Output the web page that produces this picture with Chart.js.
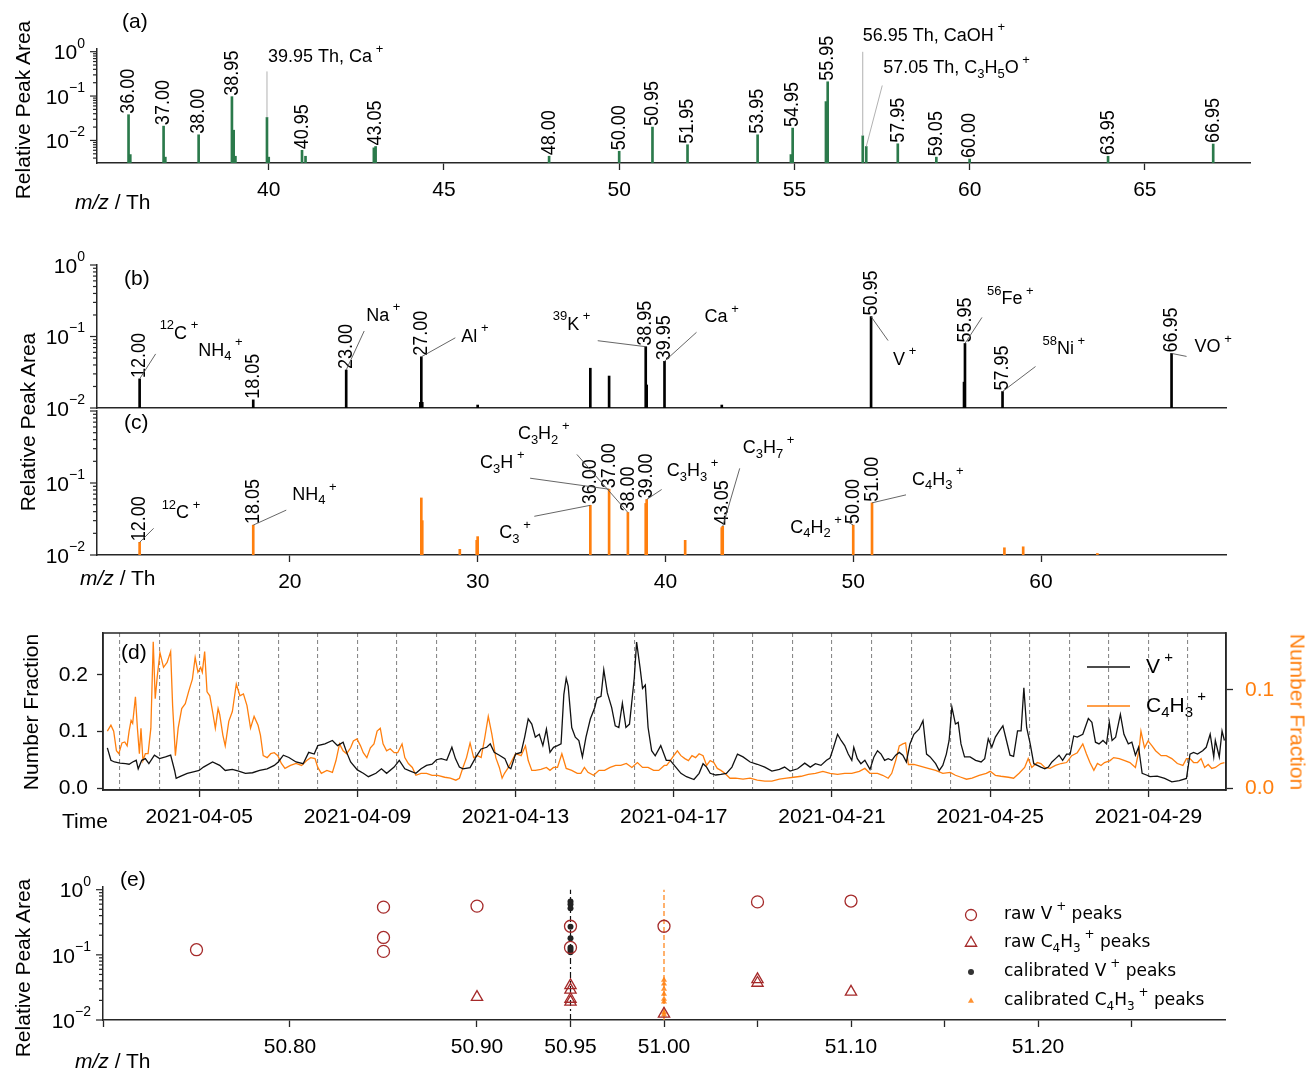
<!DOCTYPE html>
<html>
<head>
<meta charset="utf-8">
<title>Peak spectra and time series</title>
<script src="https://cdn.jsdelivr.net/npm/chart.js@4.4.1/dist/chart.umd.min.js"></script>
<style>
  html, body { margin: 0; padding: 0; background: #fff; }
  body { position: relative; width: 1309px; height: 1070px; overflow: hidden;
         font-family: "Liberation Sans", Arial, Helvetica, sans-serif; color: #000; }
  canvas { position: absolute; left: 0; }
  .t { position: absolute; white-space: nowrap; line-height: 1; transform: translateY(-50%); font-size: 21px; }
  .yt { position: absolute; white-space: nowrap; line-height: 1; font-size: 21px;
        transform: translate(-50%, -50%) rotate(-90deg); }
</style>
</head>
<body>
<canvas id="chA" width="1309" height="215" style="top:0px"></canvas>
<canvas id="chB" width="1309" height="180" style="top:240px"></canvas>
<canvas id="chC" width="1309" height="202" style="top:398px"></canvas>
<canvas id="chD" width="1309" height="220" style="top:620px"></canvas>
<canvas id="chE" width="1309" height="210" style="top:860px"></canvas>

<div class="t" style="left:122px;top:20px">(a)</div>
<div class="t" style="left:124px;top:277px">(b)</div>
<div class="t" style="left:124px;top:421px">(c)</div>
<div class="t" style="left:121px;top:651px">(d)</div>
<div class="t" style="left:120px;top:878px">(e)</div>

<div class="yt" style="left:22px;top:110px">Relative Peak Area</div>
<div class="yt" style="left:27px;top:422px">Relative Peak Area</div>
<div class="yt" style="left:30px;top:712px">Number Fraction</div>
<div class="yt" style="left:1298px;top:712px;color:#ff7f0e;transform:translate(-50%,-50%) rotate(90deg)">Number Fraction</div>
<div class="yt" style="left:22px;top:968px">Relative Peak Area</div>

<div class="t" style="left:75px;top:201px"><i>m/z</i> / Th</div>
<div class="t" style="left:80px;top:577px"><i>m/z</i> / Th</div>
<div class="t" style="left:62px;top:820px">Time</div>
<div class="t" style="left:75px;top:1060px"><i>m/z</i> / Th</div>

<script>
// ---------- data ----------
// (a) spectrum, relative peak area per m/z
const aMz   = [36.00, 36.05, 37.00, 37.05, 38.00, 38.95, 39.00, 39.05, 39.95, 40.00, 40.95, 41.05, 43.00, 43.05, 48.00,
               50.00, 50.95, 51.95, 53.95, 54.90, 54.95, 55.90, 55.95, 56.95, 57.05, 57.95, 59.05, 60.00, 63.95, 66.95];
const aArea = [0.038, 0.0048, 0.021, 0.0042, 0.0134, 0.097, 0.017, 0.0044, 0.033, 0.0042, 0.006, 0.0044, 0.0068, 0.0073, 0.0044,
               0.0057, 0.020, 0.008, 0.0134, 0.0048, 0.019, 0.075, 0.21, 0.0127, 0.0073, 0.0084, 0.0042, 0.0038, 0.0044, 0.0083];
const aPeakLabels = [36.00, 37.00, 38.00, 38.95, 40.95, 43.05, 48.00, 50.00, 50.95, 51.95, 53.95, 54.95, 55.95, 57.95, 59.05, 60.00, 63.95, 66.95];
const aIons  = ['39.95 Th, Ca^{ +}', '56.95 Th, CaOH^{ +}', '57.05 Th, C_{3}H_{5}O^{ +}'];
const aIonMz = [39.95, 56.95, 57.05];
const aTicks = [40, 45, 50, 55, 60, 65];

// (b) V-rich particle spectrum
const bMz   = [12.00, 18.05, 23.00, 26.95, 27.00, 27.05, 30.00, 36.00, 37.00, 38.95, 39.00, 39.95, 43.00, 50.95, 55.90, 55.95, 57.95, 66.95];
const bArea = [0.0255, 0.013, 0.034, 0.012, 0.052, 0.012, 0.011, 0.036, 0.028, 0.072, 0.021, 0.045, 0.011, 0.19, 0.023, 0.08, 0.017, 0.058];
const bPeakLabels = [12.00, 18.05, 23.00, 27.00, 38.95, 39.95, 50.95, 55.95, 57.95, 66.95];
const bIons  = ['^{12}C^{ +}', 'NH_{4}^{ +}', 'Na^{ +}', 'Al^{ +}', '^{39}K^{ +}', 'Ca^{ +}', 'V^{ +}', '^{56}Fe^{ +}', '^{58}Ni^{ +}', 'VO^{ +}'];
const bIonMz = [12.00, 18.05, 23.00, 27.00, 38.95, 39.95, 50.95, 55.95, 57.95, 66.95];

// (c) hydrocarbon particle spectrum
const cMz   = [12.00, 18.05, 27.00, 27.05, 29.05, 29.95, 30.00, 36.00, 37.00, 38.00, 38.95, 39.00, 41.05, 43.00, 43.05, 50.00, 51.00, 58.05, 59.05, 63.00];
const cArea = [0.015, 0.026, 0.062, 0.030, 0.012, 0.016, 0.018, 0.049, 0.082, 0.039, 0.052, 0.059, 0.016, 0.024, 0.025, 0.026, 0.053, 0.0126, 0.013, 0.0105];
const cPeakLabels = [12.00, 18.05, 36.00, 37.00, 38.00, 39.00, 43.05, 50.00, 51.00];
const cIons  = ['^{12}C^{ +}', 'NH_{4}^{ +}', 'C_{3}^{ +}', 'C_{3}H^{ +}', 'C_{3}H_{2}^{ +}', 'C_{3}H_{3}^{ +}', 'C_{3}H_{7}^{ +}', 'C_{4}H_{2}^{ +}', 'C_{4}H_{3}^{ +}'];
const cIonMz = [12.00, 18.05, 36.00, 37.00, 38.00, 39.00, 43.05, 50.00, 51.00];
const bcTicks = [20, 30, 40, 50, 60];

// (d) number fractions, time given as day of April 2021 (UTC)
const vDay = [2.68,2.77,2.86,3.00,3.14,3.23,3.32,3.41,3.46,3.55, 3.64,3.73,3.87,4.00,4.15,4.28,4.38,4.42,4.51,4.70,
  4.88,5.00,5.11,5.34,5.52,5.66,5.84,6.00,6.17,6.35, 6.53,6.72,6.90,7.00,7.13,7.27,7.45,7.63,7.77,7.91,
  8.00,8.18,8.37,8.50,8.64,8.73,8.83,9.00,9.15,9.28, 9.47,9.61,9.74,9.93,10.06,10.20,10.34,10.48,10.61,10.75,
  10.89,11.00,11.12,11.26,11.39,11.48,11.58,11.67,11.85,12.00, 12.13,12.27,12.36,12.46,12.59,12.73,12.82,12.88,13.00,13.14,
  13.23,13.32,13.41,13.50,13.60,13.69,13.78,13.87,13.96,14.06, 14.15,14.22,14.28,14.33,14.42,14.51,14.60,14.69,14.78,14.89,
  15.00,15.06,15.16,15.23,15.32,15.43,15.52,15.61,15.70,15.79, 15.88,16.00,16.06,16.15,16.21,16.28,16.35,16.44,16.53,16.67,
  16.81,16.91,17.05,17.18,17.32,17.51,17.64,17.74,17.83,17.92, 18.06,18.19,18.33,18.47,18.61,18.75,18.93,19.11,19.30,19.48,
  19.67,19.80,19.94,20.13,20.31,20.45,20.58,20.72,20.86,20.95, 21.04,21.14,21.23,21.32,21.41,21.50,21.55,21.64,21.73,21.83,
  21.96,22.06,22.15,22.24,22.33,22.42,22.51,22.61,22.70,22.79, 22.88,22.97,23.07,23.20,23.30,23.39,23.48,23.62,23.71,23.80,
  23.89,23.96,24.03,24.12,24.19,24.26,24.35,24.49,24.63,24.77, 24.86,24.95,25.04,25.13,25.23,25.32,25.41,25.50,25.59,25.69,
  25.78,25.85,25.92,26.01,26.10,26.19,26.28,26.38,26.47,26.56, 26.65,26.74,26.83,26.93,27.02,27.11,27.20,27.34,27.48,27.57,
  27.66,27.75,27.85,27.94,28.01,28.08,28.17,28.29,28.38,28.49, 28.58,28.67,28.75,28.84,28.95,29.04,29.22,29.41,29.59,29.78,
  29.96,30.05,30.14,30.24,30.37,30.46,30.56,30.65,30.69,30.79, 30.86,30.92];
const vFrac = [0.071,0.049,0.046,0.044,0.043,0.042,0.046,0.049,0.034,0.049, 0.052,0.043,0.058,0.052,0.055,0.058,0.031,0.017,0.020,0.026,
  0.029,0.031,0.037,0.046,0.040,0.031,0.033,0.030,0.026,0.027, 0.031,0.034,0.040,0.046,0.058,0.054,0.046,0.043,0.063,0.060,
  0.075,0.078,0.084,0.075,0.081,0.063,0.046,0.032,0.026,0.020, 0.026,0.034,0.026,0.037,0.049,0.034,0.030,0.026,0.034,0.040,
  0.042,0.050,0.052,0.049,0.072,0.052,0.037,0.034,0.036,0.055, 0.069,0.072,0.078,0.063,0.058,0.052,0.037,0.034,0.060,0.063,
  0.090,0.122,0.113,0.090,0.095,0.075,0.104,0.063,0.072,0.075, 0.078,0.165,0.194,0.180,0.107,0.090,0.084,0.055,0.090,0.122,
  0.142,0.159,0.162,0.209,0.168,0.142,0.110,0.107,0.150,0.107, 0.113,0.194,0.258,0.211,0.176,0.182,0.107,0.066,0.057,0.075,
  0.049,0.049,0.037,0.026,0.020,0.015,0.026,0.043,0.037,0.026, 0.023,0.024,0.026,0.037,0.060,0.055,0.046,0.042,0.037,0.030,
  0.033,0.037,0.030,0.034,0.044,0.037,0.043,0.040,0.049,0.053, 0.072,0.095,0.084,0.075,0.060,0.049,0.072,0.052,0.043,0.049,
  0.033,0.055,0.066,0.060,0.049,0.052,0.049,0.058,0.063,0.058, 0.046,0.078,0.095,0.104,0.119,0.060,0.055,0.043,0.031,0.040,
  0.060,0.084,0.143,0.113,0.116,0.078,0.055,0.055,0.049,0.046, 0.052,0.087,0.072,0.090,0.101,0.110,0.084,0.058,0.056,0.101,
  0.101,0.177,0.107,0.078,0.043,0.040,0.037,0.034,0.037,0.046, 0.052,0.058,0.049,0.060,0.060,0.092,0.090,0.095,0.123,0.116,
  0.081,0.078,0.084,0.078,0.116,0.084,0.090,0.130,0.095,0.078, 0.081,0.058,0.072,0.026,0.023,0.020,0.021,0.017,0.011,0.013,
  0.017,0.060,0.063,0.060,0.066,0.072,0.095,0.055,0.084,0.055, 0.101,0.084];
const hDay = [2.68,2.77,2.84,2.91,2.97,3.05,3.12,3.18,3.23,3.28, 3.32,3.39,3.44,3.49,3.53,3.58,3.64,3.71,3.78,3.84,
  3.89,3.94,4.01,4.10,4.19,4.28,4.33,4.40,4.47,4.56, 4.65,4.74,4.83,4.90,4.97,5.04,5.08,5.14,5.20,5.27,
  5.34,5.41,5.48,5.52,5.60,5.66,5.75,5.84,5.94,6.03, 6.12,6.21,6.30,6.39,6.49,6.55,6.62,6.72,6.81,6.90,
  6.99,7.08,7.17,7.31,7.45,7.59,7.72,7.82,7.93,8.00, 8.09,8.23,8.37,8.46,8.55,8.64,8.73,8.83,8.90,8.99,
  9.08,9.15,9.24,9.33,9.42,9.50,9.58,9.65,9.74,9.83, 9.93,10.02,10.13,10.20,10.29,10.39,10.48,10.61,10.75,10.89,
  11.03,11.21,11.35,11.49,11.58,11.67,11.76,11.85,11.94,12.04, 12.13,12.22,12.31,12.40,12.50,12.59,12.66,12.72,12.82,12.91,
  13.00,13.14,13.25,13.32,13.41,13.50,13.64,13.78,13.87,13.96, 14.06,14.17,14.28,14.42,14.56,14.65,14.74,14.83,14.97,15.11,
  15.25,15.39,15.53,15.66,15.80,15.94,16.08,16.21,16.35,16.49, 16.62,16.76,16.82,16.91,17.00,17.09,17.18,17.28,17.37,17.46,
  17.55,17.64,17.74,17.83,17.92,18.01,18.10,18.19,18.29,18.42, 18.56,18.75,18.93,19.11,19.30,19.48,19.67,19.85,20.03,20.22,
  20.40,20.58,20.77,20.95,21.14,21.32,21.50,21.69,21.83,21.96, 22.15,22.28,22.42,22.51,22.61,22.70,22.79,22.86,22.93,23.07,
  23.25,23.43,23.62,23.80,23.99,24.12,24.26,24.40,24.54,24.72, 24.90,25.00,25.13,25.27,25.46,25.59,25.73,25.87,25.96,26.05,
  26.19,26.28,26.38,26.51,26.65,26.79,26.93,27.06,27.20,27.34, 27.43,27.52,27.62,27.71,27.80,27.89,28.03,28.12,28.26,28.40,
  28.53,28.67,28.76,28.81,28.90,28.99,29.09,29.18,29.32,29.45, 29.59,29.73,29.87,29.96,30.05,30.14,30.24,30.33,30.42,30.51,
  30.60,30.69,30.83,30.92];
const hFrac = [0.058,0.064,0.058,0.038,0.035,0.046,0.047,0.043,0.058,0.069, 0.066,0.093,0.061,0.035,0.061,0.028,0.035,0.035,0.061,0.149,
  0.091,0.113,0.138,0.123,0.128,0.139,0.084,0.033,0.061,0.081, 0.086,0.099,0.111,0.133,0.118,0.123,0.118,0.139,0.098,0.094,
  0.078,0.061,0.081,0.075,0.054,0.043,0.068,0.078,0.106,0.094, 0.096,0.084,0.061,0.073,0.064,0.054,0.033,0.031,0.035,0.036,
  0.033,0.025,0.020,0.023,0.025,0.023,0.028,0.031,0.030,0.021, 0.015,0.018,0.016,0.028,0.045,0.038,0.035,0.041,0.048,0.050,
  0.043,0.036,0.031,0.041,0.045,0.058,0.061,0.045,0.038,0.040, 0.036,0.036,0.045,0.031,0.025,0.021,0.013,0.015,0.015,0.013,
  0.013,0.011,0.010,0.008,0.010,0.021,0.031,0.046,0.031,0.033, 0.031,0.051,0.073,0.055,0.031,0.021,0.010,0.015,0.021,0.028,
  0.035,0.033,0.043,0.028,0.018,0.018,0.019,0.021,0.018,0.021, 0.021,0.035,0.020,0.018,0.015,0.015,0.021,0.016,0.013,0.018,
  0.018,0.021,0.023,0.023,0.025,0.021,0.026,0.021,0.021,0.018, 0.018,0.023,0.023,0.028,0.033,0.038,0.033,0.030,0.028,0.033,
  0.031,0.035,0.033,0.023,0.028,0.026,0.020,0.018,0.015,0.010, 0.010,0.009,0.010,0.008,0.007,0.007,0.009,0.010,0.011,0.012,
  0.014,0.015,0.017,0.015,0.014,0.015,0.015,0.017,0.020,0.015, 0.015,0.013,0.010,0.015,0.028,0.043,0.045,0.046,0.024,0.024,
  0.022,0.020,0.018,0.015,0.016,0.013,0.011,0.009,0.010,0.013, 0.015,0.017,0.013,0.012,0.011,0.010,0.015,0.021,0.030,0.021,
  0.026,0.025,0.021,0.020,0.023,0.025,0.026,0.033,0.036,0.045, 0.035,0.026,0.018,0.025,0.023,0.026,0.028,0.031,0.030,0.028,
  0.026,0.021,0.038,0.058,0.041,0.048,0.043,0.038,0.033,0.033, 0.030,0.025,0.023,0.030,0.030,0.026,0.026,0.030,0.021,0.024,
  0.020,0.021,0.025,0.026];
const dayTicks  = [3,4,5,6,7,8,9,10,11,12,13,14,15,16,17,18,19,20,21,22,23,24,25,26,27,28,29,30];
const dayLabels = [5, 9, 13, 17, 21, 25, 29];

// (e) peak positions around m/z 51
const rawVMz    = [50.75, 50.85, 50.85, 50.85, 50.90, 50.95, 50.95, 51.00, 51.05, 51.10];
const rawVArea  = [0.12, 0.54, 0.185, 0.113, 0.56, 0.275, 0.13, 0.275, 0.65, 0.67];
const rawHMz    = [50.90, 50.95, 50.95, 50.95, 50.95, 51.00, 51.05, 51.05, 51.10];
const rawHArea  = [0.0225, 0.034, 0.029, 0.021, 0.019, 0.0124, 0.042, 0.037, 0.027];
const calVArea  = [0.66, 0.60, 0.52, 0.27, 0.18, 0.13, 0.12, 0.11];
const calHArea  = [0.041, 0.036, 0.030, 0.025, 0.021, 0.019, 0.013, 0.012];
const calMz     = [50.95, 51.00];
const eTicks      = [50.70, 50.80, 50.90, 50.95, 51.00, 51.05, 51.10, 51.15, 51.20, 51.25];
const eTickLabels = [50.80, 50.90, 50.95, 51.00, 51.10, 51.20];

// ---------- style ----------
const FONT = '"Liberation Sans", Arial, Helvetica, sans-serif';
const LEGFONT = '"DejaVu Sans", sans-serif';
const AXIS = '#262626';
const GREEN = '#2b7a4b';
const ORANGE = '#ff7f0e';
const BROWN = '#a52a2a';
Chart.defaults.font.family = FONT;
Chart.defaults.font.size = 21;
Chart.defaults.color = '#000';
Chart.defaults.animation = false;

// label layouts: [text dx, text dy, leader dx, leader dy] from the peak top
const aIonLayout = [[1, -60, 0, -46], [0, -100, 0, -84], [17, -78, 16, -61]];
const bIonLayout = [[20, -45, 16, -25], [-55, -49, null, null], [20, -54, 18, -39], [40, -20, 34, -19], [-93, -22, -48, -6],
                    [40, -44, 32, -29], [22, 43, 17, 24], [22, -44, 17, -26], [40, -42, 33, -25], [23, -6, 15, 3]];
const cIonLayout = [[22, -29, 14, -14], [39, -30, 33, -15], [-91, 28, -56, 11], [-129, -26, -79, -11], [-110, -78, -51, -58],
                    [20, -28, 15, -10], [20, -78, 17, -58], [-63, 3, -5, -3], [40, -23, 34, -8]];

// text with _{sub} and ^{sup}
function drawRich(ctx, s, x, y, size, family, color) {
  const segs = [];
  let i = 0, buf = '';
  while (i < s.length) {
    const c = s[i];
    if ((c === '_' || c === '^') && s[i + 1] === '{') {
      if (buf) { segs.push({ t: buf, m: 0 }); buf = ''; }
      const j = s.indexOf('}', i);
      segs.push({ t: s.slice(i + 2, j), m: c === '_' ? 1 : 2 });
      i = j + 1;
    } else { buf += c; i++; }
  }
  if (buf) segs.push({ t: buf, m: 0 });
  const small = Math.round(size * 0.7);
  ctx.save();
  ctx.fillStyle = color || '#000';
  ctx.textAlign = 'left';
  ctx.textBaseline = 'middle';
  let cx = x;
  segs.forEach(g => {
    ctx.font = (g.m ? small : size) + 'px ' + family;
    const dy = g.m === 1 ? size * 0.32 : g.m === 2 ? -size * 0.45 : 0;
    ctx.fillText(g.t, cx, y + dy);
    cx += ctx.measureText(g.t).width;
  });
  ctx.restore();
}

// log axis: minor/major ticks and 10^n labels
const logAxis = {
  id: 'logAxis',
  afterDraw(chart, args, o) {
    const y = chart.scales.y, ctx = chart.ctx, x0 = chart.chartArea.left;
    const skipTop = o && o.skipTop;
    ctx.save();
    ctx.strokeStyle = AXIS;
    ctx.lineWidth = 1.2;
    ctx.fillStyle = '#000';
    const lo = Math.floor(Math.log10(y.min)), hi = Math.ceil(Math.log10(y.max));
    for (let e = lo; e <= hi; e++) {
      for (let k = 1; k <= 9; k++) {
        const v = k * Math.pow(10, e);
        if (v < y.min * 0.999 || v > y.max * 1.001) continue;
        const py = y.getPixelForValue(v);
        ctx.beginPath();
        ctx.moveTo(x0, py);
        ctx.lineTo(x0 - (k === 1 ? 7 : 4), py);
        ctx.stroke();
        if (k === 1 && !(skipTop && e === 0)) {
          ctx.textBaseline = 'middle';
          ctx.textAlign = 'right';
          const ex = e === 0 ? '0' : '\u2212' + (-e);
          ctx.font = '14px ' + FONT;
          ctx.fillText(ex, x0 - 12, py - 8);
          const ew = ctx.measureText(ex).width;
          ctx.font = '21px ' + FONT;
          ctx.fillText('10', x0 - 12 - ew, py + 2);
        }
      }
    }
    ctx.restore();
  }
};

// peak labels and ion annotations
const stickText = {
  id: 'stickText',
  afterDatasetsDraw(chart, args, o) {
    const ctx = chart.ctx, xs = chart.scales.x, ys = chart.scales.y;
    const top = m => {
      const i = o.mz.indexOf(m);
      return [xs.getPixelForValue(m), ys.getPixelForValue(o.area[i])];
    };
    ctx.save();
    ctx.fillStyle = '#000';
    ctx.font = '18px ' + FONT;
    ctx.textBaseline = 'middle';
    ctx.textAlign = 'left';
    o.labels.forEach(m => {
      const [px, py] = top(m);
      ctx.save();
      ctx.translate(px, py - 1);
      ctx.rotate(-Math.PI / 2);
      ctx.scale(1, 1.15);
      ctx.fillText(m.toFixed(2), 0, 0);
      ctx.restore();
    });
    o.ions.forEach((txt, j) => {
      const [px, py] = top(o.ionMz[j]);
      const L = o.layout[j];
      if (L[2] !== null) {
        ctx.strokeStyle = o.leader;
        ctx.lineWidth = 0.9;
        ctx.beginPath();
        ctx.moveTo(px, py);
        ctx.lineTo(px + L[2], py + L[3]);
        ctx.stroke();
      }
      drawRich(ctx, txt, px + L[0], py + L[1], o.size, FONT, '#000');
    });
    ctx.restore();
  }
};

// keep chart areas where they are set, without label overhang padding
const noPadY = s => { s.paddingTop = 0; s.paddingBottom = 0; };
const noPadX = s => { s.paddingLeft = 0; s.paddingRight = 0; };

function stickChart(id, mz, area, color, c) {
  return new Chart(document.getElementById(id), {
    type: 'bar',
    data: { datasets: [{ data: mz.map((m, i) => ({ x: m, y: area[i] })), backgroundColor: color, barThickness: 2, borderWidth: 0 }] },
    options: {
      responsive: false, animation: false, events: [],
      layout: { padding: { top: c.padTop, right: c.padRight, left: 0, bottom: 0 } },
      plugins: {
        legend: { display: false }, tooltip: { enabled: false },
        logAxis: { skipTop: !!c.skipTop },
        stickText: { mz: mz, area: area, labels: c.labels, ions: c.ions, ionMz: c.ionMz, layout: c.layout, size: c.size, leader: c.leader }
      },
      scales: {
        x: {
          type: 'linear', min: c.xmin, max: c.xmax, offset: false,
          afterBuildTicks: s => { s.ticks = c.ticks.map(v => ({ value: v })); },
          afterFit: s => { s.height = c.axisH; noPadX(s); },
          ticks: { display: c.ticks.length > 0, font: { size: 21 }, padding: 8, maxRotation: 0, autoSkip: false },
          grid: { display: c.ticks.length > 0, drawOnChartArea: false, tickLength: 7, tickColor: AXIS, tickWidth: 1.3, offset: false },
          border: { color: AXIS, width: 1.5 }
        },
        y: {
          type: 'logarithmic', min: c.ymin, max: c.ymax,
          afterFit: s => { s.width = 97; noPadY(s); },
          ticks: { display: false }, grid: { display: false },
          border: { color: AXIS, width: 1.5 }
        }
      }
    },
    plugins: [logAxis, stickText]
  });
}

stickChart('chA', aMz, aArea, GREEN, {
  xmin: 35.1, xmax: 68.0, ymin: 0.0031, ymax: 1.15, padTop: 49, padRight: 59, axisH: 52, ticks: aTicks,
  labels: aPeakLabels, ions: aIons, ionMz: aIonMz, layout: aIonLayout, size: 18, leader: '#a8a8a8'
});
stickChart('chB', bMz, bArea, '#000', {
  xmin: 9.73, xmax: 69.85, ymin: 0.01, ymax: 1, padTop: 25, padRight: 83, axisH: 12, ticks: [],
  labels: bPeakLabels, ions: bIons, ionMz: bIonMz, layout: bIonLayout, size: 18, leader: '#555'
});
stickChart('chC', cMz, cArea, ORANGE, {
  xmin: 9.73, xmax: 69.85, ymin: 0.01, ymax: 1, padTop: 13, padRight: 83, axisH: 45, ticks: bcTicks, skipTop: true,
  labels: cPeakLabels, ions: cIons, ionMz: cIonMz, layout: cIonLayout, size: 18, leader: '#555'
});

// ---------- (d) time series ----------
const DAY = 864e5;
const T0 = Date.UTC(2021, 3, 1);
const tOf = d => T0 + (d - 1) * DAY;
const dayOf = t => Math.round((t - T0) / DAY + 1);

const boxPlugin = {
  id: 'box',
  afterDraw(chart) {
    const a = chart.chartArea, ctx = chart.ctx;
    ctx.save();
    ctx.strokeStyle = AXIS;
    ctx.lineWidth = 1.5;
    ctx.strokeRect(a.left, a.top, a.right - a.left, a.bottom - a.top);
    ctx.restore();
  }
};
const legendD = {
  id: 'legendD',
  afterDraw(chart) {
    const ctx = chart.ctx;
    ctx.save();
    ctx.lineWidth = 1.5;
    ctx.strokeStyle = '#111';
    ctx.beginPath(); ctx.moveTo(1087, 47); ctx.lineTo(1130, 47); ctx.stroke();
    ctx.strokeStyle = ORANGE;
    ctx.beginPath(); ctx.moveTo(1087, 86); ctx.lineTo(1130, 86); ctx.stroke();
    ctx.restore();
    drawRich(ctx, 'V^{ +}', 1146, 47, 21, FONT, '#000');
    drawRich(ctx, 'C_{4}H_{3}^{ +}', 1146, 86, 21, FONT, '#000');
  }
};

new Chart(document.getElementById('chD'), {
  type: 'line',
  data: {
    datasets: [
      { data: vDay.map((d, i) => ({ x: tOf(d), y: vFrac[i] })), borderColor: '#111', borderWidth: 1.3, pointRadius: 0, tension: 0, yAxisID: 'y' },
      { data: hDay.map((d, i) => ({ x: tOf(d), y: hFrac[i] })), borderColor: ORANGE, borderWidth: 1.3, pointRadius: 0, tension: 0, yAxisID: 'y2' }
    ]
  },
  options: {
    responsive: false, animation: false, events: [],
    layout: { padding: { top: 13, left: 0, right: 0, bottom: 0 } },
    plugins: { legend: { display: false }, tooltip: { enabled: false } },
    scales: {
      x: {
        type: 'linear', min: tOf(2.57), max: tOf(30.96),
        afterBuildTicks: s => { s.ticks = dayTicks.map(d => ({ value: tOf(d) })); },
        afterFit: s => { s.height = 50; noPadX(s); },
        ticks: {
          autoSkip: false, maxRotation: 0, padding: 8, font: { size: 21 },
          callback: v => dayLabels.includes(dayOf(v)) ? new Date(v).toISOString().slice(0, 10) : ''
        },
        grid: {
          color: '#8a8a8a', lineWidth: 1.1, tickLength: 7, tickWidth: 1.3,
          tickColor: c => (c.tick && dayLabels.includes(dayOf(c.tick.value))) ? AXIS : 'rgba(0,0,0,0)'
        },
        border: { dash: [4, 3], color: AXIS, width: 1.5 }
      },
      y: {
        position: 'left', min: -0.0035, max: 0.274,
        afterBuildTicks: s => { s.ticks = [0, 0.1, 0.2].map(v => ({ value: v })); },
        afterFit: s => { s.width = 103; noPadY(s); },
        ticks: { font: { size: 21 }, padding: 9, callback: v => v.toFixed(1) },
        grid: { drawOnChartArea: false, tickLength: 6, color: AXIS, tickWidth: 1.3 },
        border: { color: AXIS, width: 1.5 }
      },
      y2: {
        position: 'right', min: -0.002, max: 0.158,
        afterBuildTicks: s => { s.ticks = [0, 0.1].map(v => ({ value: v })); },
        afterFit: s => { s.width = 83; noPadY(s); },
        ticks: { color: ORANGE, font: { size: 21 }, padding: 12, callback: v => v.toFixed(1) },
        grid: { drawOnChartArea: false, tickLength: 7, color: AXIS, tickWidth: 1.3 },
        border: { color: AXIS, width: 1.5 }
      }
    }
  },
  plugins: [boxPlugin, legendD]
});

// ---------- (e) peak positions ----------
const legendE = {
  id: 'legendE',
  afterDraw(chart) {
    const ctx = chart.ctx, rows = [55, 83, 112, 141], mx = 971, tx = 1004;
    const marks = [
      { pointStyle: 'circle', radius: 5.5, borderWidth: 1.3, stroke: BROWN, fill: 'rgba(0,0,0,0)' },
      { pointStyle: 'triangle', radius: 6.5, borderWidth: 1.3, stroke: BROWN, fill: 'rgba(0,0,0,0)' },
      { pointStyle: 'circle', radius: 3, borderWidth: 0, stroke: '#333', fill: '#333' },
      { pointStyle: 'triangle', radius: 3.5, borderWidth: 0, stroke: ORANGE, fill: 'rgba(255,127,14,0.85)' }
    ];
    const texts = ['raw V^{ +} peaks', 'raw C_{4}H_{3}^{ +} peaks', 'calibrated V^{ +} peaks', 'calibrated C_{4}H_{3}^{ +} peaks'];
    marks.forEach((m, i) => {
      ctx.save();
      ctx.strokeStyle = m.stroke;
      ctx.fillStyle = m.fill;
      ctx.lineWidth = m.borderWidth;
      Chart.helpers.drawPoint(ctx, { pointStyle: m.pointStyle, radius: m.radius, borderWidth: m.borderWidth, rotation: 0 }, mx, rows[i]);
      ctx.restore();
      drawRich(ctx, texts[i], tx, rows[i], 17, LEGFONT, '#000');
    });
  }
};

new Chart(document.getElementById('chE'), {
  type: 'scatter',
  data: {
    datasets: [
      { data: rawVMz.map((m, i) => ({ x: m, y: rawVArea[i] })), pointStyle: 'circle', pointRadius: 6,
        backgroundColor: 'rgba(0,0,0,0)', borderColor: BROWN, borderWidth: 1.3 },
      { data: rawHMz.map((m, i) => ({ x: m, y: rawHArea[i] })), pointStyle: 'triangle', pointRadius: 6.5,
        backgroundColor: 'rgba(0,0,0,0)', borderColor: BROWN, borderWidth: 1.3 },
      { data: calVArea.map(v => ({ x: calMz[0], y: v })), pointStyle: 'circle', pointRadius: 3,
        backgroundColor: '#222', borderWidth: 0 },
      { data: calHArea.map(v => ({ x: calMz[1], y: v })), pointStyle: 'triangle', pointRadius: 3.5,
        backgroundColor: 'rgba(255,127,14,0.85)', borderWidth: 0 },
      { type: 'line', data: [{ x: calMz[0], y: 0.01 }, { x: calMz[0], y: 1 }], borderColor: '#111', borderWidth: 1.2,
        borderDash: [6, 3, 2, 3], pointRadius: 0, showLine: true },
      { type: 'line', data: [{ x: calMz[1], y: 0.01 }, { x: calMz[1], y: 1 }], borderColor: ORANGE, borderWidth: 1.2,
        borderDash: [5, 3], pointRadius: 0, showLine: true }
    ]
  },
  options: {
    responsive: false, animation: false, events: [],
    layout: { padding: { top: 27, right: 84, left: 0, bottom: 0 } },
    plugins: { legend: { display: false }, tooltip: { enabled: false } },
    scales: {
      x: {
        type: 'linear', min: 50.70, max: 51.30,
        afterBuildTicks: s => { s.ticks = eTicks.map(v => ({ value: v })); },
        afterFit: s => { s.height = 50; noPadX(s); },
        ticks: { autoSkip: false, maxRotation: 0, padding: 8, font: { size: 21 },
                 callback: v => eTickLabels.includes(v) ? v.toFixed(2) : '' },
        grid: { drawOnChartArea: false, tickLength: 7, tickColor: AXIS, tickWidth: 1.3 },
        border: { color: AXIS, width: 1.5 }
      },
      y: {
        type: 'logarithmic', min: 0.01, max: 1.1,
        afterFit: s => { s.width = 103; noPadY(s); },
        ticks: { display: false }, grid: { display: false },
        border: { color: AXIS, width: 1.5 }
      }
    }
  },
  plugins: [logAxis, legendE]
});
</script>
</body>
</html>
